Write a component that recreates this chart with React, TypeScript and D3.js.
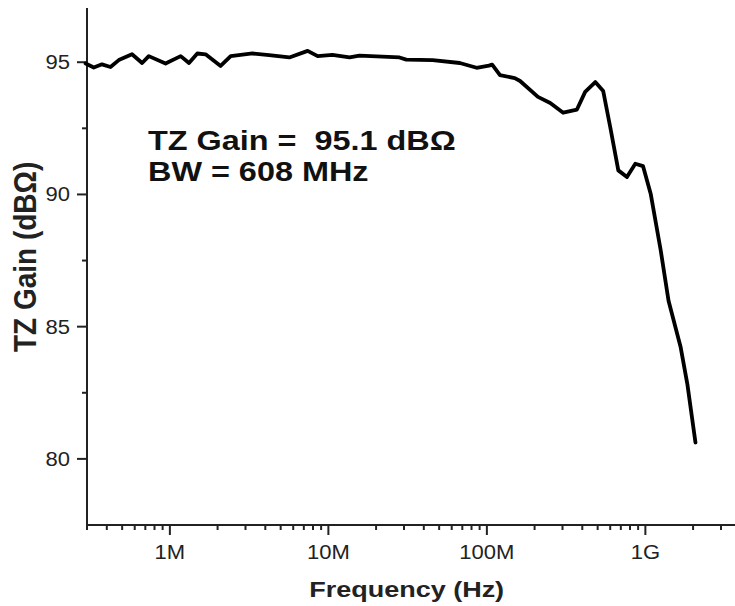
import * as d3 from "d3";

// frequency (Hz) and transimpedance gain (dBΩ)
const freq = [
  2.94e5, 3.31e5, 3.73e5, 4.22e5, 4.76e5, 5.77e5, 6.68e5, 7.36e5, 9.39e5,
  1.17e6, 1.32e6, 1.49e6, 1.68e6, 2.09e6, 2.42e6, 3.32e6, 4.23e6, 5.67e6,
  7.4e6, 8.56e6, 1.06e7, 1.36e7, 1.57e7, 2.81e7, 3.1e7, 4.55e7, 6.75e7,
  8.61e7, 1.03e8, 1.08e8, 1.21e8, 1.5e8, 1.62e8, 2.1e8, 2.51e8, 3.03e8,
  3.7e8, 4.17e8, 4.83e8, 5.42e8, 6.0e8, 6.75e8, 7.65e8, 8.64e8, 9.67e8,
  1.08e9, 1.25e9, 1.4e9, 1.67e9, 1.84e9, 2.07e9,
];
const gain = [
  94.95, 94.8, 94.92, 94.82, 95.08, 95.3, 94.97, 95.23, 94.95,
  95.23, 94.97, 95.33, 95.3, 94.86, 95.23, 95.33, 95.27, 95.18,
  95.43, 95.23, 95.28, 95.18, 95.25, 95.18, 95.1, 95.08, 94.97,
  94.79, 94.87, 94.91, 94.51, 94.4, 94.29, 93.69, 93.46, 93.09,
  93.21, 93.88, 94.25, 93.91, 92.55, 90.91, 90.66, 91.16, 91.07,
  90.03, 87.88, 85.98, 84.22, 82.83, 80.62,
];

const xMajor = [1e6, 1e7, 1e8, 1e9];
const xLabels = ["1M", "10M", "100M", "1G"];
const yMajor = [80, 85, 90, 95];
const yMinor = [82.5, 87.5, 92.5];
const notes = ["TZ Gain =  95.1 dB\u03A9", "BW = 608 MHz"];

const W = 735;
const H = 606;
const font = "'Liberation Sans', Arial, sans-serif";
const ink = "#222";

export default function App() {
  const x = d3
    .scaleLog()
    .domain([3e5, Math.pow(10, Math.log10(3e5) + 648 / 158.5)])
    .range([87, 735]);
  const y = d3.scaleLinear().domain([77.5, 97.05]).range([525, 8]);

  const x0 = x.range()[0];
  const y0 = y.range()[0];

  const minorX = x.ticks().filter((t) => !xMajor.includes(t));
  const data = freq.map((f, i) => [f, gain[i]] as [number, number]);
  const line = d3
    .line<[number, number]>()
    .x((d) => x(d[0]))
    .y((d) => y(d[1]));

  return (
    <svg
      width={W}
      height={H}
      style={{ position: "absolute", left: 0, top: 0, background: "#fff" }}
      fontFamily={font}
    >
      {/* axes */}
      <line x1={x0} x2={x0} y1={y.range()[1]} y2={y0} stroke={ink} strokeWidth={2} />
      <line x1={x0 - 1} x2={W} y1={y0} y2={y0} stroke={ink} strokeWidth={2} />

      {/* y ticks */}
      {yMajor.map((v) => (
        <g key={"ym" + v}>
          <line x1={x0 - 10} x2={x0} y1={y(v)} y2={y(v)} stroke={ink} strokeWidth={2} />
          <text
            transform={`translate(${x0 - 17},${y(v) + 7}) scale(1.13,1)`}
            textAnchor="end"
            fontSize={19.5}
            fill={ink}
          >
            {v}
          </text>
        </g>
      ))}
      {yMinor.map((v) => (
        <line key={"yn" + v} x1={x0 - 5} x2={x0} y1={y(v)} y2={y(v)} stroke={ink} strokeWidth={2} />
      ))}

      {/* x ticks */}
      {xMajor.map((t, i) => (
        <g key={"xm" + t}>
          <line x1={x(t)} x2={x(t)} y1={y0} y2={y0 + 10} stroke={ink} strokeWidth={2} />
          <text
            transform={`translate(${x(t)},${y0 + 34}) scale(1.13,1)`}
            textAnchor="middle"
            fontSize={19.5}
            fill={ink}
          >
            {xLabels[i]}
          </text>
        </g>
      ))}
      {minorX.map((t) => (
        <line key={"xn" + t} x1={x(t)} x2={x(t)} y1={y0} y2={y0 + 5} stroke={ink} strokeWidth={2} />
      ))}

      {/* axis titles */}
      <text
        transform={`translate(${(x(1e7) + x(1e8)) / 2 - 1},597) scale(1.2,1)`}
        textAnchor="middle"
        fontSize={22.5}
        fontWeight="bold"
        fill={ink}
      >
        Frequency (Hz)
      </text>
      <text
        transform="translate(36,352) scale(1.1,1) rotate(-90)"
        textAnchor="start"
        fontSize={28}
        fontWeight="bold"
        fill={ink}
      >
        TZ Gain (dB{"\u03A9"})
      </text>

      {/* annotation */}
      {notes.map((n, i) => (
        <text
          key={n}
          transform={`translate(148,${150 + i * 31}) scale(1.2,1)`}
          fontSize={27}
          fontWeight="bold"
          fill="#111"
          style={{ whiteSpace: "pre" }}
        >
          {n}
        </text>
      ))}

      {/* gain curve */}
      <path
        d={line(data) ?? ""}
        fill="none"
        stroke="#000"
        strokeWidth={3.8}
        strokeLinejoin="round"
        strokeLinecap="round"
      />
    </svg>
  );
}
